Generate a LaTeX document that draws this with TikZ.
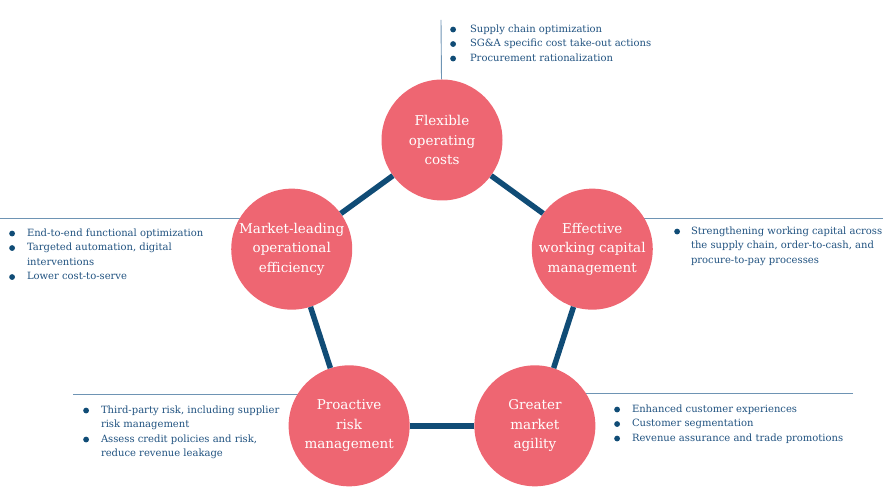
\documentclass[tikz,border=0pt]{standalone}
\usepackage{fontspec}
\setmainfont{DejaVu Serif}
\usetikzlibrary{positioning, calc, backgrounds}
\definecolor{mypink}{RGB}{238,102,114}
\definecolor{mynavy}{RGB}{16,76,118}
\definecolor{mytext}{RGB}{32,82,128}
\definecolor{myrule}{RGB}{110,148,180}
\tikzset{
  hub/.style={circle, fill=mypink, minimum size=121pt, inner sep=0pt,
    text=white, align=center, font=\fontsize{13.5}{19.5}\selectfont},
  link/.style={line width=5.5pt, color=mynavy},
  rule/.style={line width=0.9pt, color=myrule},
  notes/.style={anchor=north west, inner sep=0pt, text=mytext,
    font=\fontsize{10}{14.5}\selectfont}
}
\newcommand{\dotb}{\tikz[baseline=-2.8pt]\fill[mynavy] (0pt,0pt) circle (2.9pt);}

\begin{document}
\begin{tikzpicture}[x=1pt, y=1pt]
  \useasboundingbox (0,0) rectangle (892,502);
  \coordinate (mid) at (442,204);
  % Circles
  \node[hub] (flex) at ([shift={(90:158)}]mid) {Flexible\\operating\\costs};
  \node[hub] (effwc) at ([shift={(18:158)}]mid) {Effective\\working capital\\management};
  \node[hub] (agile) at ([shift={(306:158)}]mid) {Greater\\market\\agility};
  \node[hub] (risk) at ([shift={(234:158)}]mid) {Proactive\\risk\\management};
  \node[hub] (opeff) at ([shift={(162:158)}]mid) {Market-leading\\operational\\efficiency};
  % Links
  \draw[link] (flex) -- (effwc);
  \draw[link] (effwc) -- (agile);
  \draw[link] (agile) -- (risk);
  \draw[link] (risk) -- (opeff);
  \draw[link] (opeff) -- (flex);
  % Rules
  \coordinate (toptick) at (441,482);
  \coordinate (lrule) at (0,284);
  \coordinate (rrule) at (883,284);
  \coordinate (blrule) at (73,108);
  \coordinate (brrule) at (853,109);
  \begin{scope}[on background layer]
    \draw[rule] (toptick) -- (flex);
    \draw[rule] (lrule) -- (lrule -| opeff);
    \draw[rule] (rrule) -- (rrule -| effwc);
    \draw[rule] (blrule) -- (blrule -| risk);
    \draw[rule] (brrule) -- (brrule -| agile);
  \end{scope}
  % Notes
  \node[notes] (topnotes) at (450,480) {\begin{tabular}{@{}l@{\hspace{14pt}}l@{}}
    \dotb & Supply chain optimization\\
    \dotb & SG\&A specific cost take-out actions\\
    \dotb & Procurement rationalization
  \end{tabular}};
  \node[notes] (leftnotes) at (9,276) {\begin{tabular}{@{}l@{\hspace{12pt}}l@{}}
    \dotb & End-to-end functional optimization\\
    \dotb & Targeted automation, digital\\
          & interventions\\
    \dotb & Lower cost-to-serve
  \end{tabular}};
  \node[notes] (rightnotes) at (674,278) {\begin{tabular}{@{}l@{\hspace{11pt}}l@{}}
    \dotb & Strengthening working capital across\\
          & the supply chain, order-to-cash, and\\
          & procure-to-pay processes
  \end{tabular}};
  \node[notes] (blnotes) at (83,99) {\begin{tabular}{@{}l@{\hspace{12pt}}l@{}}
    \dotb & Third-party risk, including supplier\\
          & risk management\\
    \dotb & Assess credit policies and risk,\\
          & reduce revenue leakage
  \end{tabular}};
  \node[notes] (brnotes) at (614,100) {\begin{tabular}{@{}l@{\hspace{12pt}}l@{}}
    \dotb & Enhanced customer experiences\\
    \dotb & Customer segmentation\\
    \dotb & Revenue assurance and trade promotions
  \end{tabular}};
\end{tikzpicture}
\end{document}
